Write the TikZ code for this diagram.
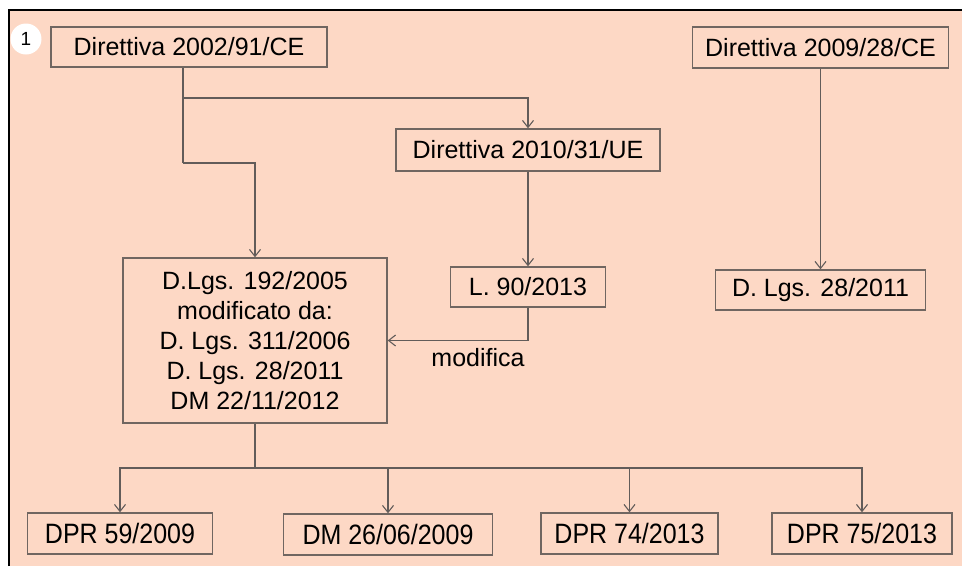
\documentclass[tikz,border=0pt]{standalone}
\usepackage{fontspec}
\setmainfont{Liberation Sans}
\usetikzlibrary{arrows.meta}

\definecolor{peach}{RGB}{253,216,197}
\definecolor{boxline}{RGB}{112,102,97}
\definecolor{wire}{RGB}{98,92,90}

\newcommand{\altotesto}[1]{\scalebox{1}[1.12]{#1}}

\tikzset{
    doc/.style={draw=boxline, line width=1.4pt, fill=peach, inner sep=0pt,
        align=center, font=\fontsize{25}{30}\selectfont},
    wireline/.style={draw=wire, line width=1.3pt},
    arr/.style={wireline, -{Straight Barb[length=7pt,width=11pt,line width=1.1pt]}}
}

\begin{document}
\begin{tikzpicture}[x=1pt, y=-1pt]
    \useasboundingbox (0,0) rectangle (962,566);
    % Sfondo e cornice
    \fill[peach] (9,10) rectangle (962,566);
    \draw[line width=2pt] (9,566) -- (9,10) -- (962,10);
    \node[circle, fill=white, minimum size=31pt, inner sep=0pt,
        font=\fontsize{19}{22}\selectfont] (badge) at (26,39) {1};

    % Direttive europee
    \node[doc, minimum width=276pt, minimum height=40pt] (dir2002) at (189,47) {Direttiva 2002/91/CE};
    \node[doc, minimum width=256pt, minimum height=41pt] (dir2009) at (820.5,47.5) {Direttiva 2009/28/CE};
    \node[doc, minimum width=264pt, minimum height=42pt] (dir2010) at (528,150) {Direttiva 2010/31/UE};

    % Recepimento nazionale
    \node[doc, minimum width=264pt, minimum height=165pt] (dlgs192) at (255,340.5)
        {D.Lgs. 192/2005\\ modificato da:\\ D. Lgs. 311/2006\\ D. Lgs. 28/2011\\ DM 22/11/2012};
    \node[doc, minimum width=155pt, minimum height=40pt] (legge90) at (528,287) {L. 90/2013};
    \node[doc, minimum width=210pt, minimum height=40pt] (dlgs28) at (820.5,290) {D. Lgs. 28/2011};

    % Decreti attuativi
    \node[doc, minimum width=185pt, minimum height=41pt] (dpr59) at (120,533.5) {\altotesto{DPR 59/2009}};
    \node[doc, minimum width=209pt, minimum height=41pt] (dm26) at (388,534.5) {\altotesto{DM 26/06/2009}};
    \node[doc, minimum width=177pt, minimum height=41pt] (dpr74) at (629.5,533.5) {\altotesto{DPR 74/2013}};
    \node[doc, minimum width=180pt, minimum height=41pt] (dpr75) at (862,533.5) {\altotesto{DPR 75/2013}};

    % Collegamenti
    \coordinate (split) at (183,98);
    \coordinate (bend) at (183,163);
    \coordinate (bus) at (255,468);
    \draw[wireline] ([xshift=-6pt]dir2002.south) -- (bend);
    \draw[arr] (bend) -| (dlgs192.north);
    \draw[arr] (split) -| (dir2010.north);
    \draw[arr] (dir2010.south) -- (legge90.north);
    \draw[arr] (legge90.south) |- (dlgs192.east);
    \node[font=\fontsize{25}{30}\selectfont] (modifica) at (478,358) {modifica};
    \draw[arr] (dir2009.south) -- (dlgs28.north);

    \draw[wireline] (dlgs192.south) -- (bus);
    \foreach \n in {dpr59, dm26, dpr74, dpr75}
        \draw[arr] (bus) -| (\n.north);
\end{tikzpicture}
\end{document}
